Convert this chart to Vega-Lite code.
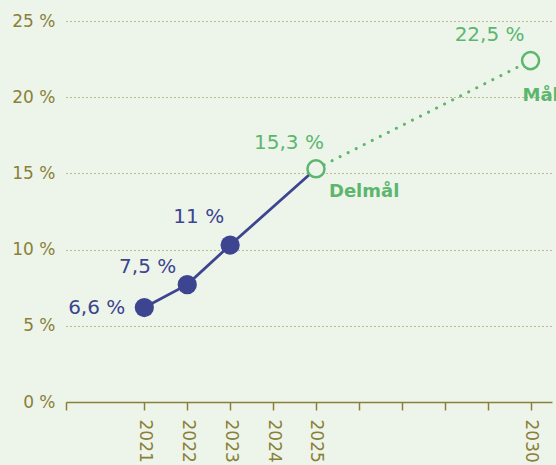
{
  "$schema": "https://vega.github.io/schema/vega-lite/v6.json",
  "width": 486,
  "height": 381,
  "autosize": "none",
  "padding": {"left": 66, "top": 21, "right": 4, "bottom": 63},
  "background": "#edf5ea",
  "config": {
    "view": {"stroke": null},
    "font": "DejaVu Sans"
  },
  "datasets": {
    "actual": [
      {"year": 2021, "value": 6.2, "label": "6,6 %"},
      {"year": 2022, "value": 7.7, "label": "7,5 %"},
      {"year": 2023, "value": 10.3, "label": "11 %"},
      {"year": 2025, "value": 15.3, "label": "15,3 %"}
    ],
    "target": [
      {"year": 2025, "value": 15.3, "label": "15,3 %", "name": "Delmål"},
      {"year": 2030, "value": 22.4, "label": "22,5 %", "name": "Mål"}
    ]
  },
  "encoding": {
    "x": {
      "field": "year",
      "type": "quantitative",
      "scale": {"domain": [2019.175, 2030.5], "nice": false, "zero": false},
      "axis": {
        "title": null,
        "values": [2019.175, 2021, 2022, 2023, 2024, 2025, 2026, 2027, 2028, 2029, 2030],
        "labelExpr": "indexof([2021,2022,2023,2024,2025,2030], datum.value) >= 0 ? '' + datum.value : ''",
        "labelAngle": 90,
        "labelAlign": "left",
        "labelBaseline": "middle",
        "labelPadding": 9,
        "labelFontSize": 17,
        "labelColor": "#8a8039",
        "labelFlush": false,
        "labelOverlap": false,
        "domainColor": "#8a8039",
        "domainWidth": 1.5,
        "tickColor": "#8a8039",
        "tickSize": 8,
        "tickWidth": 1.5,
        "grid": false
      }
    },
    "y": {
      "field": "value",
      "type": "quantitative",
      "scale": {"domain": [0, 25], "nice": false},
      "axis": {
        "title": null,
        "values": [0, 5, 10, 15, 20, 25],
        "labelExpr": "datum.value + ' %'",
        "labelFontSize": 17,
        "labelColor": "#8a8039",
        "labelPadding": 11,
        "domain": false,
        "ticks": false,
        "grid": true,
        "gridColor": "#8a8039",
        "gridDash": [1, 3],
        "gridWidth": 1.2
      }
    }
  },
  "layer": [
    {
      "data": {"name": "actual"},
      "mark": {"type": "line", "color": "#3d4590", "strokeWidth": 2.8},
      "encoding": {}
    },
    {
      "data": {"name": "target"},
      "mark": {"type": "line", "color": "#5cb66e", "strokeWidth": 3, "strokeDash": [0.1, 8.9], "strokeCap": "round"},
      "encoding": {}
    },
    {
      "data": {"name": "actual"},
      "transform": [{"filter": "datum.year < 2025"}],
      "mark": {"type": "point", "filled": true, "color": "#3d4590", "size": 370, "opacity": 1},
      "encoding": {}
    },
    {
      "data": {"name": "target"},
      "mark": {"type": "point", "filled": false, "fill": "#edf5ea", "fillOpacity": 1, "stroke": "#5cb66e", "strokeWidth": 2.5, "size": 290, "opacity": 1},
      "encoding": {}
    },
    {
      "data": {"name": "actual"},
      "transform": [{"filter": "datum.year == 2021"}],
      "mark": {"type": "text", "color": "#3d4590", "fontSize": 20, "align": "right", "baseline": "middle", "dx": -19, "dy": 0},
      "encoding": {"text": {"field": "label"}}
    },
    {
      "data": {"name": "actual"},
      "transform": [{"filter": "datum.year == 2022"}],
      "mark": {"type": "text", "color": "#3d4590", "fontSize": 20, "align": "right", "baseline": "middle", "dx": -11, "dy": -18},
      "encoding": {"text": {"field": "label"}}
    },
    {
      "data": {"name": "actual"},
      "transform": [{"filter": "datum.year == 2023"}],
      "mark": {"type": "text", "color": "#3d4590", "fontSize": 20, "align": "right", "baseline": "middle", "dx": -6, "dy": -28},
      "encoding": {"text": {"field": "label"}}
    },
    {
      "data": {"name": "target"},
      "transform": [{"filter": "datum.year == 2025"}],
      "mark": {"type": "text", "color": "#5cb66e", "fontSize": 20, "align": "right", "baseline": "middle", "dx": 8, "dy": -26},
      "encoding": {"text": {"field": "label"}}
    },
    {
      "data": {"name": "target"},
      "transform": [{"filter": "datum.year == 2030"}],
      "mark": {"type": "text", "color": "#5cb66e", "fontSize": 20, "align": "right", "baseline": "middle", "dx": -6, "dy": -26},
      "encoding": {"text": {"field": "label"}}
    },
    {
      "data": {"name": "target"},
      "transform": [{"filter": "datum.year == 2025"}],
      "mark": {"type": "text", "color": "#5cb66e", "fontSize": 18, "fontWeight": "bold", "align": "left", "baseline": "middle", "dx": 13, "dy": 23},
      "encoding": {"text": {"field": "name"}}
    },
    {
      "data": {"name": "target"},
      "transform": [{"filter": "datum.year == 2030"}],
      "mark": {"type": "text", "color": "#5cb66e", "fontSize": 18, "fontWeight": "bold", "align": "left", "baseline": "middle", "dx": -8, "dy": 35},
      "encoding": {"text": {"field": "name"}}
    }
  ]
}
